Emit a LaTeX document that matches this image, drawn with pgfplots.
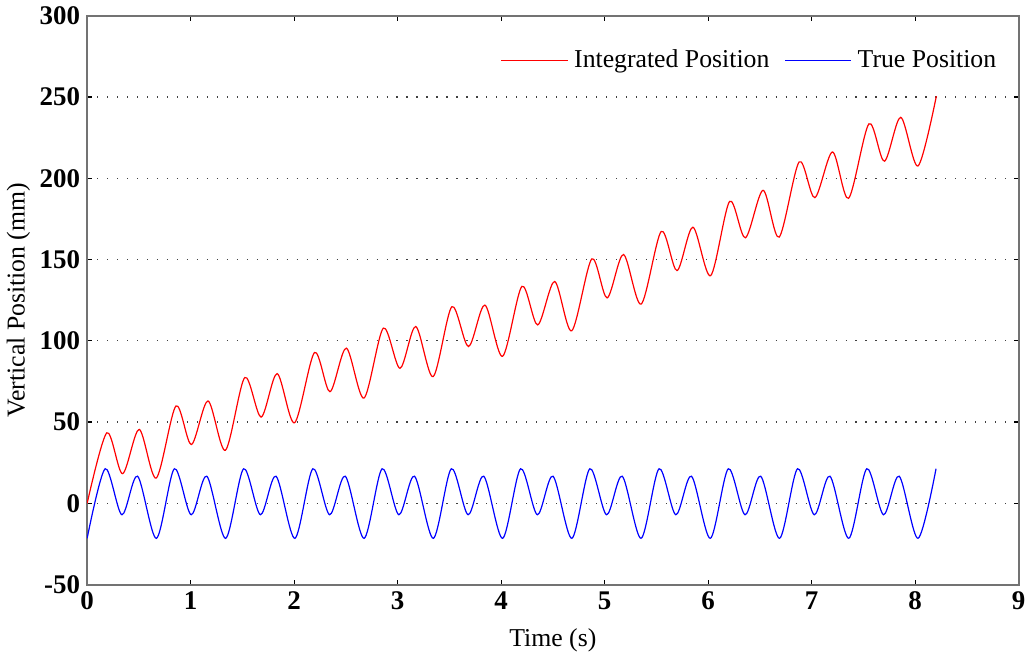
\documentclass[border=0pt]{standalone}
\usepackage{fontspec}
\setmainfont{Liberation Serif}
\usepackage{pgfplots}
\pgfplotsset{compat=1.18}

% integrated (drifting) position: peaks and troughs
\pgfplotstableread{
t v
0 0
0.190 43.4
0.342 18.3
0.503 45.5
0.668 15.6
0.858 59.9
1.007 36.2
1.168 63.0
1.336 32.7
1.523 77.4
1.681 53.1
1.836 79.8
2.004 49.6
2.197 92.8
2.346 68.7
2.504 95.5
2.675 64.8
2.862 107.8
3.023 83.1
3.175 108.8
3.343 78.0
3.524 121.0
3.685 96.5
3.843 122.0
4.014 90.5
4.201 133.5
4.353 109.8
4.517 136.5
4.682 106.2
4.876 150.4
5.024 126.4
5.182 153.1
5.353 122.6
5.547 167.3
5.699 143.2
5.853 169.9
6.024 140.1
6.208 185.8
6.360 163.4
6.531 192.6
6.686 163.8
6.880 210.1
7.031 188.1
7.202 216.2
7.357 187.7
7.554 233.5
7.703 210.5
7.861 237.5
8.028 207.6
8.205 250.5
}\integrated

% true position: peaks and troughs
\pgfplotstableread{
t v
0 -21.5
0.174 21.3
0.336 -7.0
0.487 16.7
0.669 -21.5
0.843 21.3
1.005 -7.0
1.156 16.7
1.338 -21.5
1.512 21.3
1.674 -7.0
1.825 16.7
2.007 -21.5
2.181 21.3
2.343 -7.0
2.494 16.7
2.676 -21.5
2.850 21.3
3.012 -7.0
3.163 16.7
3.345 -21.5
3.519 21.3
3.681 -7.0
3.832 16.7
4.014 -21.5
4.188 21.3
4.350 -7.0
4.501 16.7
4.683 -21.5
4.857 21.3
5.019 -7.0
5.170 16.7
5.352 -21.5
5.526 21.3
5.688 -7.0
5.839 16.7
6.021 -21.5
6.195 21.3
6.357 -7.0
6.508 16.7
6.690 -21.5
6.864 21.3
7.026 -7.0
7.177 16.7
7.359 -21.5
7.533 21.3
7.695 -7.0
7.846 16.7
8.028 -21.5
8.202 21.3
}\truepos

\begin{document}
\begin{tikzpicture}
\begin{axis}[
    scale only axis,
    width=465bp, height=284bp,
    xmin=0, xmax=9, ymin=-50, ymax=300,
    xtick={0,1,...,9},
    ytick={-50,0,50,100,150,200,250,300},
    tick align=inside,
    major tick length=2.5bp,
    axis line style={black!55, line width=0.9pt},
    tick style={black, line width=0.6pt},
    ymajorgrids,
    major grid style={black!75, line width=0.6pt, dash pattern=on 0.6pt off 4.4pt},
    /pgf/number format/assume math mode=true,
    ticklabel style={font=\fontsize{13.5}{15}\selectfont\bfseries},
    label style={font=\fontsize{12.9}{14}\selectfont},
    xlabel={Time (s)},
    ylabel={Vertical Position (mm)},
    xlabel style={yshift=-2.5bp},
    ylabel style={yshift=-2bp},
    legend style={draw=none, at={(0.985,0.955)}, anchor=north east,
        font=\fontsize{12.9}{14}\selectfont, legend columns=2,
        nodes={inner xsep=1bp},
        /tikz/every odd column/.append style={column sep=2bp},
        /tikz/every even column/.append style={column sep=6.5bp}},
]
\addplot[color=red, line width=0.6pt, smooth,
    legend image code/.code={\draw[draw=red, line width=0.6pt] (0bp,0bp) -- (33bp,0bp);}]
    table {\integrated};
\addlegendentry{Integrated Position}
\addplot[color=blue, line width=0.6pt, smooth,
    legend image code/.code={\draw[draw=blue, line width=0.6pt] (0bp,0bp) -- (33bp,0bp);}]
    table {\truepos};
\addlegendentry{True Position}
\end{axis}
\end{tikzpicture}
\end{document}
